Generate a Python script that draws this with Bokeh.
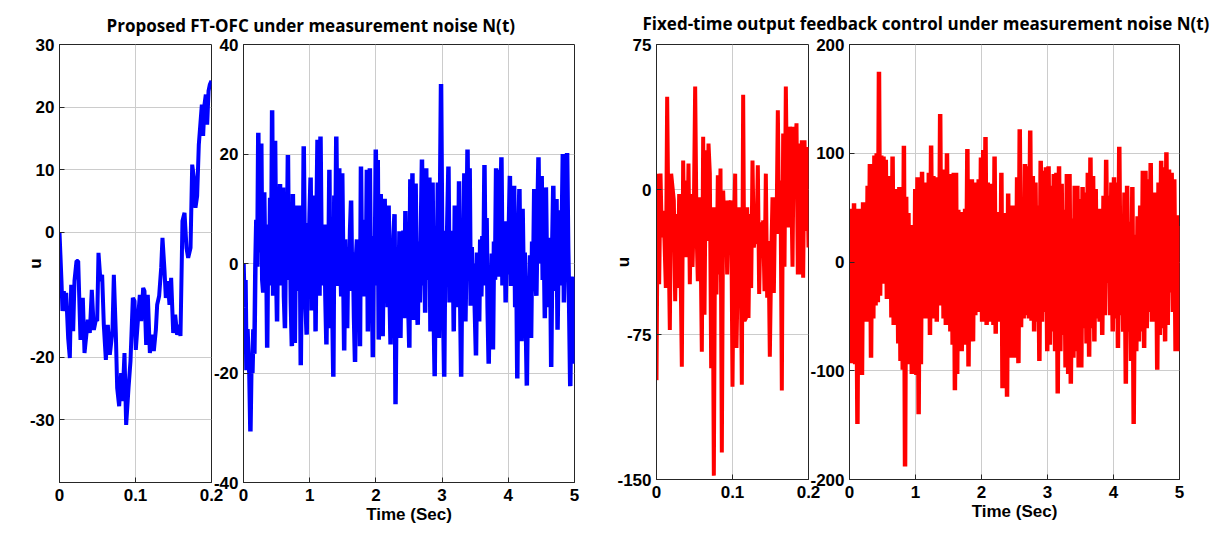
import numpy as np
from bokeh.plotting import figure
from bokeh.layouts import row
from bokeh.models import FixedTicker, Range1d
from bokeh.embed import file_html
from bokeh.resources import INLINE

# ---------------- data ----------------
title_left = "Proposed FT-OFC under measurement noise N(t)"
title_right = "Fixed-time output feedback control under measurement noise N(t)"
x_label = "Time (Sec)"
y_label = "u"

# Panel 1: proposed FT-OFC, zoom 0..0.2 s
t1 = [0, 0.0026, 0.0039, 0.0057, 0.0070, 0.0088, 0.0114, 0.0136, 0.0154, 0.0180,
      0.0197, 0.0224, 0.0246, 0.0276, 0.0307, 0.0329, 0.0373, 0.0399, 0.0425, 0.0452,
      0.0478, 0.0496, 0.0513, 0.0539, 0.0561, 0.0583, 0.0610, 0.0636, 0.0662, 0.0697,
      0.0715, 0.0741, 0.0759, 0.0785, 0.0811, 0.0829, 0.0855, 0.0877, 0.0908, 0.0934,
      0.0965, 0.0987, 0.1004, 0.1031, 0.1057, 0.1075, 0.1101, 0.1118, 0.1140, 0.1162,
      0.1189, 0.1215, 0.1241, 0.1268, 0.1285, 0.1311, 0.1338, 0.1355, 0.1382, 0.1399,
      0.1425, 0.1447, 0.1469, 0.1496, 0.1522, 0.1548, 0.1575, 0.1592, 0.1618, 0.1645,
      0.1671, 0.1693, 0.1724, 0.1746, 0.1768, 0.1789, 0.1811, 0.1833, 0.1855, 0.1873,
      0.1890, 0.1908, 0.1925, 0.1943, 0.1961, 0.1978, 0.2]
u1 = [0, -7.8, -12.6, -9.4, -12.6, -9.7, -16.9, -20.1, -8.4, -15.8,
      -7.8, -4.6, -4.6, -17.2, -10.5, -19.3, -14, -16.1, -9.2, -15.6,
      -14, -14.2, -3.3, -7.8, -6.8, -14.8, -20.4, -14.8, -19.6, -15.8,
      -6.8, -16.1, -24.9, -27.8, -22.5, -27, -19.3, -30.8, -24.9, -20.6,
      -10.5, -11, -18.8, -14.2, -10, -14.2, -8.9, -9.4, -18, -10,
      -19.3, -16.4, -19, -15.6, -11.6, -10.2, -5.7, -0.9, -6.2, -10.5,
      -7.8, -11.6, -7.3, -16.1, -13.2, -16.4, -14.8, -16.6, 1.8, 3.1,
      -2.5, -4.1, -2.5, 10.8, 8.7, 3.9, 5.8, 14, 17.5, 20.4,
      15.4, 20.4, 22, 17.2, 22.6, 23.6, 24.2]

# Panel 2: proposed FT-OFC, 0..5 s (first half 0..2.52 s, second half 2.52..5 s)
u2_first = [0, -8, -3, -19.5, -12, -17, -20, -30.7, -18, -20, -12, -16.5, -1, 8, -0.6,
            23.9, 2, 10, 21.9, -3, -5.3, 13, -2, 5, -15.4, 7.1, -4, 12, -3, 28, -5.9, 8,
            22.4, 0, -10.6, 10, 3, 14.5, -4, 6, 13.9, -6, -11.8, 8, 2, 19.8, -3, 9, -7,
            -15.1, 12.7, -2, -14.5, 6, 10.6, -5, 4, 10.6, -18.6, 3, -6, 21.4, 2, -8, -13,
            7.4, 0, 9, 15.7, -8.6, 5, -5, 12.4, -12.4, 8, 22.6, 0, -5.9, 23.2, 3, -4, 6,
            7.1, -6, -14.8, 5, -2, 17.1, -11.8, 3, -8, -20.7, 12.4, 0, 23.2, 5, -4.1, 17.4,
            2, -6, 16.5, 0, -15.9, 4.4, -7, -11.8, 3, -5, 6, 11.5, -4, 2, -10, -18, 1, 4.4,
            -8, 3, -15.1, 17.7, -2, 6, -6, 8, -3, 17.1, -12.4, 4, 17.4, -5, 2, -17.1, 5,
            -4, 20.8, 3, 18.9, -13.9, 2, 12.7, -6, -13.3, 4, 11.8, -3, 4, -8, 10.6, -5,
            -14.8, 3, -6, 5, 9, -25.7, -5, 3, -8, 5.9, -13.6, 2, -4, 6, -10, 9.6, -3, 4,
            -8, -15.4, 15.4]
u2_second = [-5, 16.5, -10.3, 3, 14.6, -6, -11.2, 4, -7.1, 6, 19, -4, 8, -9, 17.4, -3,
             6, 15.7, -12.4, -5, 14.8, -8, -20.6, 3, -6, 14.8, -13.6, 10, 32.8, 5, -8,
             -20.7, 6, -3, 8, 17.7, -7.1, 4, -6, 6, -12.4, 10.6, -4, 5, -8, 15, -5, -20.7,
             2, -4, 16.5, -10.6, 3, 20.8, -2, 17.4, -7.7, 3, -6, 0, -9, -16.8, 2, -5,
             -10.6, 4.4, -6, 5, -3, 18, -4, 8.3, -8, -18.3, -2, -9, 1.8, -15.7, 4, -3,
             17.4, 2, 17.1, -2.4, 7, 19.4, -4, 2, 7.7, -7.1, 5, -2, 6, 16, -4.1, 8, -3,
             14.2, -8, 3, -21, 5, 13.6, -6, -14.2, 10, -4, 2, -10, -22.3, -4, -9, 1.5,
             -13.6, 4, -3, 13.6, -2, -5.9, 8, 19.4, 0, 9, 16, -3, 6, -10, 13.9, -2, 3, -8,
             4.7, -18.9, 3, 14.2, -5, 4, 11.8, -12.1, 3, 9.7, -4, 6, 20, -7.1, 5, -3,
             20.2, 3, -8, -22.4, -2.4, -10, -18.3, -2.4]

# Panel 3: fixed-time OFC, zoom 0..0.2 s
u3 = [-98.6, 8.2, -49, 8.2, -24.8, -11, -26.6, -50.9, 48, -23, -72.6, 8.2, 1.2, -5.7,
      -57.8, -12.7, -50.9, -2.3, -37, -91.7, 15, -35, 4.7, -35, 13.4, -49, -2.3, -40,
      -12.7, 53.3, -19.6, -47.4, -4, -23, -83.9, 27.3, -64.8, 20.3, -26.6, 23.8, 8.2,
      -92.5, -9.2, -148, -9.2, -54.3, 7.3, -44, 10.8, -136, -0.5, -23, -5.7, -44, -5.7,
      -12.7, -5.7, -102, -23, 8.2, -82, -40, -9.2, -21, -101, 49, -68, -66.5, -9.2,
      -66.5, -12.7, -51, 15, -30, -23, -28, 12.5, -54, -17, -33.5, -16, -52.6, 8.2,
      -56, -26.6, -86.5, -37, -4, -53.5, -4, -23, 41, -23, 4.7, -104, 29, -40, 53.3,
      -7.5, -19.6, 32.5, 8.2, -40, 32.5, 18.6, 34.2, -44, 23.8, -44, 25.5, -45.7, 25.5,
      -21.4, 22, -30]

# Panel 4: fixed-time OFC, 0..5 s (first half 0..2.49 s, second half 2.5..5 s)
u4_first = [49, -93, 30, -40, 54, -94, 25, -149, 49, -103, 48, -104, 55, -22, 28, -55,
            70, -52, 90, -88, 79, -52, 98, -40, 100, -37, 175, -31, 98, -20, 97, -19, 94,
            -34, 79, -34, 73, -51, 97, -58, 67, -49, 64, -75, 69, -91, 61, -99, 107, -188,
            60, -94, 45, -94, 25, -103, 34, -97, 67, -104, 78, -140, 76, -94, 83, -40, 70,
            -52, 73, -51, 82, -67, 107, -40, 79, -52, 78, -55, 58, -30, 136, -40, 79, -52,
            85, -58, 100, -30, 67, -64, 81, -76, 82, -118, 82, -103, 48, -79, 46, -82, 33,
            -76, 49, -30, 104, -96, 49, -70, 76, -73, 70, -49, 73, -46, 76, -40, 96, -55,
            103, -30, 115, -58, 73, -55, 70, -43, 72, -58, 97, -66, 46, -55, 46, -55, 82,
            -116, 45, -97, 43, -124, 63, -82, 31, -88, 52, -70]
u4_second = [52, -88, 78, -93, 122, -60, 46, -52, 90, -49, 88, -52, 121, -54, 79, -64, 73,
             -55, 52, -91, 93, -55, 84, -46, 87, -82, 88, -76, 70, -64, 81, -82, 82, -121,
             88, -82, 72, -67, 48, -97, 81, -103, 81, -112, 40, -88, 70, -82, 70, -97, 58,
             -97, 69, -61, 64, -75, 82, -87, 96, -61, 79, -73, 67, -52, 49, -55, 49, -67,
             61, -49, 94, -19, 61, -49, 73, -64, 78, -52, 73, -79, 106, -49, 39, -64, 64,
             -112, 70, -64, 37, -91, 69, -149, 25, -82, 42, -73, 52, -64, 84, -79, 84, -61,
             76, -46, 91, -55, 64, -55, 64, -99, 73, -67, 93, -61, 87, -73, 101, -58, 85,
             -28, 82, -46, 76, -82, 43, -82, 33]

# axes
x_zoom_ticks = [0, 0.1, 0.2]
x_full_ticks = [0, 1, 2, 3, 4, 5]
y1_ticks = [-30, -20, 0, 10, 20, 30]
y2_ticks = [-40, -20, 0, 20, 40]
y3_ticks = [-150, -75, 0, 75]
y4_ticks = [-200, -100, 0, 100, 200]

# sampling grids for the long records
t2 = np.concatenate([np.linspace(0, 2.52, len(u2_first)),
                     np.linspace(2.52, 5, len(u2_second) + 1)[1:]])
u2 = u2_first + u2_second
t3 = np.linspace(0, 0.2, len(u3))
t4 = np.concatenate([np.linspace(0, 2.49, len(u4_first)),
                     np.linspace(2.5, 5, len(u4_second))])
u4 = u4_first + u4_second

BLUE = "#0000ff"
RED = "#ff0000"
TICK_FONT = "Liberation Sans"
TITLE_FONT = "Open Sans"
FRAME = "#262626"


def panel(fw, fh, left, right, top, bottom, xr, yr, xticks, yticks,
          xlabel=None, ylabel=None, label_standoff=0, title=None, title_offset=0,
          title_standoff=16, overrides=None):
    p = figure(frame_width=fw, frame_height=fh,
               min_border_left=left, min_border_right=right,
               min_border_top=top, min_border_bottom=bottom,
               x_range=Range1d(*xr), y_range=Range1d(*yr),
               output_backend="svg", toolbar_location=None,
               border_fill_color=None, background_fill_color="white",
               outline_line_color=FRAME, outline_line_width=1)
    if title:
        p.title.text = title
        p.title.align = "left"
        p.title.vertical_align = "bottom"
        p.title.offset = title_offset
        p.title.text_font = TITLE_FONT
        p.title.text_font_size = "17px"
        p.title.text_font_style = "bold"
        p.title.text_color = "black"
        p.title.standoff = title_standoff
    else:
        p.title.text = ""
    p.xaxis.ticker = FixedTicker(ticks=xticks)
    p.yaxis.ticker = FixedTicker(ticks=yticks)
    if overrides:
        p.xaxis.major_label_overrides = overrides
    p.yaxis.major_label_overrides = {v: str(v) for v in yticks}
    for ax in (p.xaxis, p.yaxis):
        ax.major_tick_in = 5
        ax.major_tick_out = 0
        ax.minor_tick_in = 0
        ax.minor_tick_out = 0
        ax.major_tick_line_color = FRAME
        ax.axis_line_color = FRAME
        ax.major_label_text_font = TICK_FONT
        ax.major_label_text_font_style = "bold"
        ax.major_label_text_font_size = "17px"
        ax.major_label_text_color = "black"
        ax.axis_label_text_font = TICK_FONT
        ax.axis_label_text_font_style = "bold"
        ax.axis_label_text_font_size = "17px"
        ax.axis_label_text_color = "black"
    p.xaxis.major_label_standoff = 6
    p.yaxis.major_label_standoff = 5
    if xlabel:
        p.xaxis.axis_label = xlabel
        p.xaxis.axis_label_standoff = 1
    if ylabel:
        p.yaxis.axis_label = ylabel
        p.yaxis.axis_label_standoff = label_standoff
    p.grid.grid_line_color = "#cccccc"
    p.grid.grid_line_width = 1
    return p


zoom_over = {0: "0", 0.1: "0.1", 0.2: "0.2"}

p1 = panel(152, 438, 59, 20, 40, 60, (0, 0.2), (-40, 30), x_zoom_ticks, y1_ticks,
           ylabel=y_label, label_standoff=-18, overrides=zoom_over)
p1.line(t1, u1, line_width=4, line_color=BLUE)

p2 = panel(331, 438, 143, 16, 40, 60, (0, 5), (-40, 40), x_full_ticks, y2_ticks,
           xlabel=x_label, title=title_left, title_offset=-137, title_standoff=16)
p2.line(t2, u2, line_width=4.5, line_color=BLUE)
p2.margin = (0, 0, 0, -131)

p3 = panel(152, 435, 66, 20, 43, 60, (0, 0.2), (-150, 75), x_zoom_ticks, y3_ticks,
           ylabel=y_label, label_standoff=-19, overrides=zoom_over)
p3.line(t3, u3, line_width=4, line_color=RED)

p4 = panel(330, 435, 219, 39, 43, 60, (0, 5), (-200, 200), x_full_ticks, y4_ticks,
           xlabel=x_label, title=title_right, title_offset=-207, title_standoff=19)
p4.line(t4, u4, line_width=4.5, line_color=RED)
p4.margin = (0, 0, 0, -198)

layout = row(p1, p2, p3, p4)
open("out.html", "w").write(file_html(layout, INLINE))
